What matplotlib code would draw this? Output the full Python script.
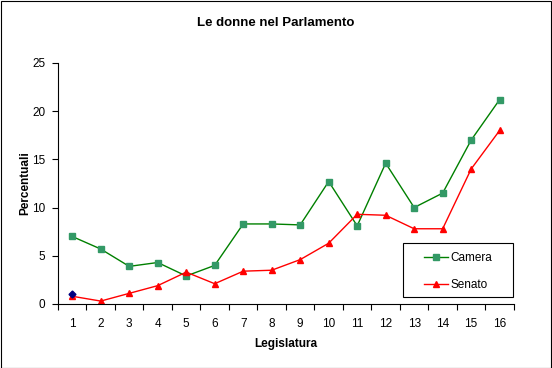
import matplotlib.pyplot as plt
from matplotlib.patches import Rectangle
from matplotlib.ticker import MultipleLocator, FixedLocator

plt.rcParams['font.family'] = ['Liberation Sans', 'DejaVu Sans']

legislature = list(range(1, 17))
camera = [7.0, 5.7, 3.9, 4.3, 2.9, 4.0, 8.3, 8.3, 8.2, 12.7, 8.1, 14.6, 10.0, 11.5, 17.0, 21.2]
senato = [0.8, 0.3, 1.1, 1.9, 3.3, 2.1, 3.4, 3.5, 4.6, 6.3, 9.3, 9.2, 7.8, 7.8, 14.0, 18.0]
extra_x = [1]
extra_y = [1.0]

fig = plt.figure(figsize=(5.52, 3.68), dpi=100)
fig.patches.append(Rectangle((0.001, 0.001), 0.997, 0.996, transform=fig.transFigure,
                             fill=False, edgecolor='black', linewidth=0.8))

ax = fig.add_axes((0.105, 0.174, 0.826, 0.655))

ax.plot(legislature, camera, color='#008000', lw=1, marker='s', ms=4,
        mfc='#339966', mec='#339966', label='Camera')
ax.plot(legislature, senato, color='red', lw=1, marker='^', ms=5,
        mfc='red', mec='red', label='Senato')
ax.plot(extra_x, extra_y, ls='none', marker='D', ms=3.5, color='#000080')

ax.set_xlim(0.5, 16.5)
ax.set_ylim(0, 25)
ax.yaxis.set_major_locator(MultipleLocator(5))
ax.xaxis.set_major_locator(FixedLocator(legislature))
ax.xaxis.set_minor_locator(FixedLocator([i + 0.5 for i in range(0, 17)]))
ax.tick_params(axis='x', which='major', length=0, labelsize=8.5, pad=10)
ax.tick_params(axis='x', which='minor', length=4, width=0.8, direction='out')
ax.tick_params(axis='y', length=4, width=0.8, labelsize=8.5, pad=5)

for side in ['top', 'right']:
    ax.spines[side].set_visible(False)
for side in ['left', 'bottom']:
    ax.spines[side].set_linewidth(0.8)

ax.set_xlabel('Legislatura', fontsize=8.5, fontweight='bold', labelpad=6)
ax.set_ylabel('Percentuali', fontsize=8.5, fontweight='bold', labelpad=1)
fig.suptitle('Le donne nel Parlamento', fontsize=9.5, fontweight='bold', y=0.955)

# legend box drawn separately so the padding matches the original
ax.add_patch(Rectangle((0.757, 0.029), 0.241, 0.224, transform=ax.transAxes,
                       facecolor='white', edgecolor='black', linewidth=0.8,
                       zorder=5, clip_on=False))
leg = ax.legend(loc='center', bbox_to_anchor=(0.8775, 0.135), fontsize=8.5,
                frameon=False, borderpad=0, borderaxespad=0,
                labelspacing=1.3, handlelength=2.0, handletextpad=0.2)
leg.set_zorder(6)

fig.savefig('out.png', dpi=100)
